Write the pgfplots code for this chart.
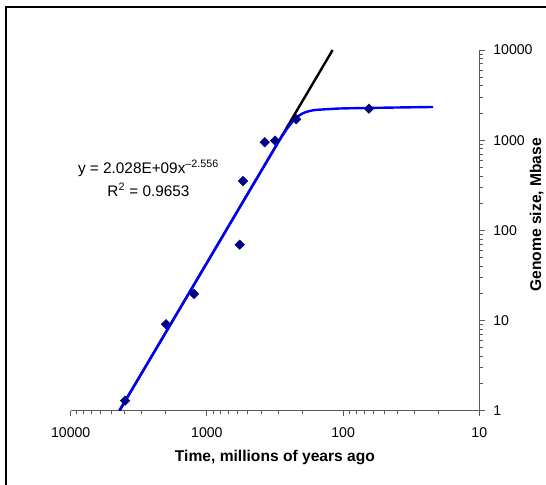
\documentclass[border=0pt]{standalone}
\usepackage{pgfplots}
\pgfplotsset{compat=1.18}
\usepackage{fontspec}
\setmainfont{Liberation Sans}
\definecolor{navymark}{RGB}{0,0,128}
\definecolor{axisgray}{RGB}{90,90,90}

\begin{document}
\begin{tikzpicture}
\begin{axis}[
    at={(0,0)}, anchor=south west,
    scale only axis, width=306.45pt, height=270.5pt,
    xmode=log, ymode=log, x dir=reverse,
    xmin=10, xmax=10000, ymin=1, ymax=10000,
    axis x line=bottom, axis y line=right,
    axis line style={-, axisgray, line width=0.8pt},
    every tick/.style={axisgray, line width=0.7pt},
    tick align=outside,
    major tick length=4pt, minor tick length=2.5pt,
    xtick={10,100,1000,10000}, xticklabels={10,100,1000,10000},
    ytick={1,10,100,1000,10000}, yticklabels={1,10,100,1000,10000},
    minor xtick={20,30,40,50,60,70,80,90,200,300,400,500,600,700,800,900,2000,3000,4000,5000,6000,7000,8000,9000},
    minor ytick={2,3,4,5,6,7,8,9,20,30,40,50,60,70,80,90,200,300,400,500,600,700,800,900,2000,3000,4000,5000,6000,7000,8000,9000},
    tick label style={font=\fontsize{10.6pt}{12pt}\selectfont},
    xticklabel shift=5pt,
    yticklabel style={anchor=west, xshift=3pt},
    /pgf/number format/assume math mode=true,
    xlabel={Time, millions of years ago},
    ylabel={Genome size, Mbase},
    xlabel style={at={(axis description cs:0.5,-0.131)}, anchor=center,
        font=\fontsize{11.7pt}{13pt}\selectfont\bfseries},
    ylabel style={at={(axis description cs:1.1405,0.543)}, anchor=center,
        font=\fontsize{11.7pt}{13pt}\selectfont\bfseries},
    clip=true,
]
% power-law fit, y = 2.028E+09 x^-2.556
\addplot[black, line width=1.8pt] coordinates {(4376,1) (119.3,10000)};
% saturating curve
\addplot[blue, line width=1.8pt, smooth] coordinates {
    (4395,1) (2512,4.14) (1585,13.43) (1000,43.55) (631,141.3)
    (398,458.1) (316.2,824) (281.8,1096) (251.2,1413) (223.9,1738)
    (199.5,1972) (177.8,2099) (158.5,2163) (125.9,2213) (100,2249)
    (50.1,2291) (21.8,2333)
};
% data
\addplot[only marks, mark=square*, mark size=2.5pt,
    mark options={rotate=45, fill=navymark, draw=navymark}] coordinates {
    (3990,1.29) (1995,9.08) (1243,19.7) (574,69.3) (543,352)
    (376,947) (316,989) (221,1704) (64.6,2234)
};
\node[align=center, font=\fontsize{11.5pt}{17.3pt}\selectfont]
    at (axis description cs:0.1904,0.6437)
    {y = 2.028E+09x\textsuperscript{–2.556}\\R\textsuperscript{2} = 0.9653};
\end{axis}
\draw[black, line width=1.5pt] (-48.5pt,-56pt) -- (-48.5pt,302.8pt) -- (357pt,302.8pt);
\pgfresetboundingbox
\path (-53.03pt,-55.73pt) rectangle (356.5pt,308.0pt);
\end{tikzpicture}
\end{document}
